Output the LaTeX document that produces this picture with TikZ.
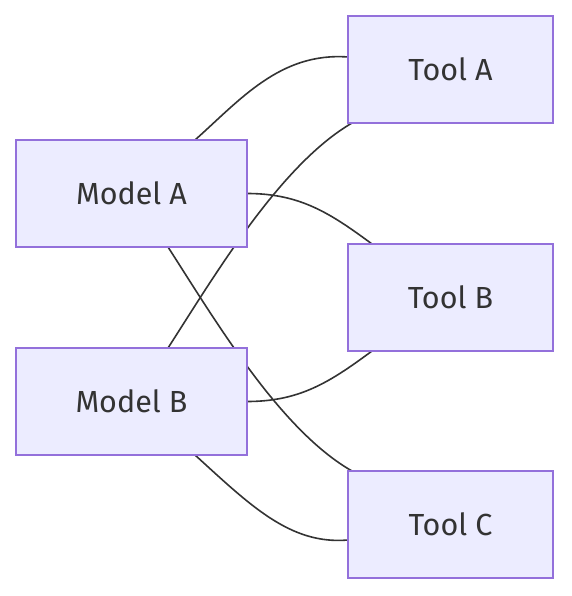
\documentclass[tikz,border=0pt]{standalone}
\usepackage{fontspec}
\setmainfont{Fira Sans}
\usetikzlibrary{backgrounds}
\definecolor{nodefill}{HTML}{ECECFF}
\definecolor{nodeborder}{HTML}{9370DB}
\definecolor{edgecol}{HTML}{333333}
\begin{document}
\begin{tikzpicture}[x=1pt,y=-1pt,
  box/.style={draw=nodeborder,fill=nodefill,line width=1.6pt,minimum width=#1,minimum height=107pt,inner sep=0pt,outer sep=0pt,font=\fontsize{30.5}{36}\selectfont,text=edgecol},
  edge/.style={draw=edgecol,line width=1.6pt}]
\useasboundingbox (0,0) rectangle (571,596);
% nodes
\node[box=231pt] (modelA) at (131.5,193.5) {Model A};
\node[box=231pt] (modelB) at (131.5,401.5) {Model B};
\node[box=205pt] (toolA) at (450.5,69.5) {Tool A};
\node[box=205pt] (toolB) at (450.5,297.5) {Tool B};
\node[box=205pt] (toolC) at (450.5,524.5) {Tool C};
% edges (behind the nodes)
\begin{scope}[on background layer]
\draw[edge] ([xshift=63.5pt]modelA.north) .. controls +(45,-40) and +(-68,-5) .. ([yshift=12.5pt]toolA.west);
\draw[edge] (modelA.east) .. controls +(53,0) and +(-42,-31) .. ([xshift=-78.5pt]toolB.north);
\draw[edge] ([xshift=36.5pt]modelA.south) .. controls +(47,73) and +(-72,-41) .. ([xshift=4pt]toolC.north west);
\draw[edge] ([xshift=36.5pt]modelB.north) .. controls +(47,-73) and +(-72,42) .. ([xshift=4pt]toolA.south west);
\draw[edge] (modelB.east) .. controls +(53,0) and +(-42,31) .. ([xshift=-78.5pt]toolB.south);
\draw[edge] ([xshift=63.5pt]modelB.south) .. controls +(55,50) and +(-58,5) .. ([yshift=-15.5pt]toolC.west);
\end{scope}
\end{tikzpicture}
\end{document}
